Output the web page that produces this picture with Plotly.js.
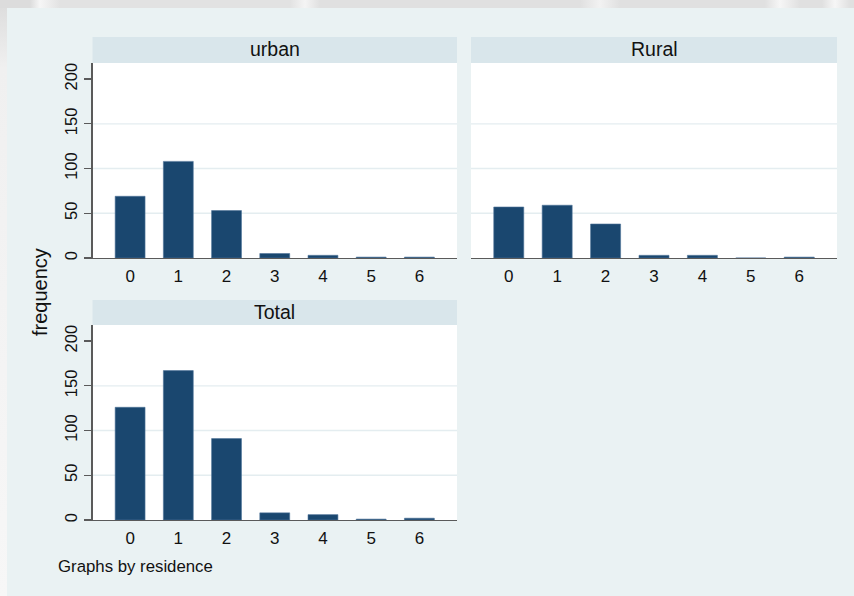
<!DOCTYPE html>
<html>
<head>
<meta charset="utf-8">
<script src="https://cdn.plot.ly/plotly-3.0.1.min.js"></script>
<style>
  html, body { margin: 0; padding: 0; width: 854px; height: 596px; overflow: hidden; background: #f3f3f3; }
  #topband { position: absolute; left: 0; top: 0; width: 854px; height: 8px;
    background: linear-gradient(90deg, #dcdcdc 0px, #dcdcdc 30px, #f6f6f6 40px, #e2e2e2 60px, #e2e2e2 290px,
      #f4f4f4 305px, #e0e0e0 320px, #e0e0e0 580px, #f2f2f2 600px, #e0e0e0 620px, #e0e0e0 765px,
      #f6f6f6 780px, #e0e0e0 800px, #e0e0e0 822px, #f6f6f6 835px, #e0e0e0 850px); }
  #leftband { position: absolute; left: 0; top: 8px; width: 7px; height: 588px;
    background: linear-gradient(180deg, #dedede 0px, #f0f0f0 60px, #f7f7f7 100%); }
  #chart { position: absolute; left: 7px; top: 8px; width: 847px; height: 588px; }
</style>
</head>
<body>
<div id="topband"></div>
<div id="leftband"></div>
<div id="chart"></div>
<script>
// Number of children per household, frequency by residence
const categories = [0, 1, 2, 3, 4, 5, 6];
const urbanFreq = [69, 108, 53, 5, 3, 1, 1];
const ruralFreq = [57, 59, 38, 3, 3, 0, 1];
const totalFreq = [126, 167, 91, 8, 6, 1, 2];
const panelTitles = ['urban', 'Rural', 'Total'];
const yTickVals = [0, 50, 100, 150, 200];
const gridVals = [50, 100, 150];

const W = 847, H = 588;
const px = v => v / W;          // horizontal pixel -> paper fraction
const py = v => 1 - v / H;      // vertical pixel (from top) -> paper fraction

const barColor = '#1a476f';
const stripColor = '#d9e6eb';
const bgColor = '#eaf2f3';
const axisColor = '#5a5a5a';
const font = 'Liberation Sans, Arial, sans-serif';

// panel boxes in pixels within the chart div
const panels = [
  { x0: 85.5, x1: 450, y0: 55, y1: 250, s0: 29, xa: 'x', ya: 'y', data: urbanFreq, showY: true },
  { x0: 464, x1: 830, y0: 55, y1: 250, s0: 29, xa: 'x2', ya: 'y2', data: ruralFreq, showY: false },
  { x0: 85.5, x1: 450, y0: 317, y1: 512, s0: 292, xa: 'x3', ya: 'y3', data: totalFreq, showY: true }
];

const traces = panels.map(p => ({
  type: 'bar',
  x: categories,
  y: p.data,
  xaxis: p.xa,
  yaxis: p.ya,
  width: 0.62,
  marker: { color: barColor, line: { color: '#4f7399', width: 0.6 } },
  hoverinfo: 'x+y',
  showlegend: false
}));

const layout = {
  width: W,
  height: H,
  margin: { l: 0, r: 0, t: 0, b: 0, pad: 0 },
  paper_bgcolor: bgColor,
  plot_bgcolor: '#ffffff',
  bargap: 0,
  font: { family: font, color: '#111111' },
  shapes: [],
  annotations: []
};

panels.forEach((p, i) => {
  const sfx = i === 0 ? '' : String(i + 1);
  layout['xaxis' + sfx] = {
    domain: [px(p.x0), px(p.x1)],
    anchor: p.ya,
    range: [-0.78, 6.78],
    tickmode: 'array',
    tickvals: categories,
    ticktext: categories.map(String),
    ticks: '',
    showgrid: false,
    zeroline: false,
    showline: true,
    linecolor: axisColor,
    linewidth: 1.3,
    ticklabelstandoff: 2,
    tickfont: { family: font, size: 17, color: '#111111' },
    fixedrange: true
  };
  layout['yaxis' + sfx] = {
    domain: [py(p.y1), py(p.y0)],
    anchor: p.xa,
    range: [0, 218],
    tickmode: 'array',
    tickvals: yTickVals,
    ticktext: yTickVals.map(String),
    showticklabels: p.showY,
    ticks: p.showY ? 'outside' : '',
    ticklen: 7,
    tickwidth: 1.3,
    tickcolor: axisColor,
    tickangle: -90,
    ticklabelstandoff: 1,
    showgrid: false,
    zeroline: false,
    showline: p.showY,
    linecolor: axisColor,
    linewidth: 1.3,
    tickfont: { family: font, size: 16.5, color: '#111111' },
    fixedrange: true
  };

  // horizontal gridlines inside the plot area
  gridVals.forEach(g => {
    layout.shapes.push({
      type: 'line', layer: 'below',
      xref: p.xa + ' domain', yref: p.ya,
      x0: 0, x1: 1, y0: g, y1: g,
      line: { color: '#e4edf0', width: 1.4 }
    });
  });

  // strip header above each panel
  layout.shapes.push({
    type: 'rect', layer: 'below',
    xref: 'paper', yref: 'paper',
    x0: px(p.x0), x1: px(p.x1), y0: py(p.y0), y1: py(p.s0),
    fillcolor: stripColor,
    line: { width: 0 }
  });
  layout.annotations.push({
    xref: 'paper', yref: 'paper',
    x: px((p.x0 + p.x1) / 2), y: py((p.s0 + p.y0) / 2 - 0.5),
    xanchor: 'center', yanchor: 'middle',
    text: panelTitles[i],
    showarrow: false,
    font: { family: font, size: 19.5, color: '#111111' }
  });
});

// shared y-axis title
layout.annotations.push({
  xref: 'paper', yref: 'paper',
  x: px(33), y: py(284),
  xanchor: 'center', yanchor: 'middle',
  text: 'frequency',
  textangle: -90,
  showarrow: false,
  font: { family: font, size: 20, color: '#111111' }
});

// by-group note
layout.annotations.push({
  xref: 'paper', yref: 'paper',
  x: px(49), y: py(558),
  xanchor: 'left', yanchor: 'middle',
  text: 'Graphs by residence',
  showarrow: false,
  font: { family: font, size: 16.8, color: '#111111' }
});

Plotly.newPlot('chart', traces, layout, { displayModeBar: false, staticPlot: true });
</script>
</body>
</html>
